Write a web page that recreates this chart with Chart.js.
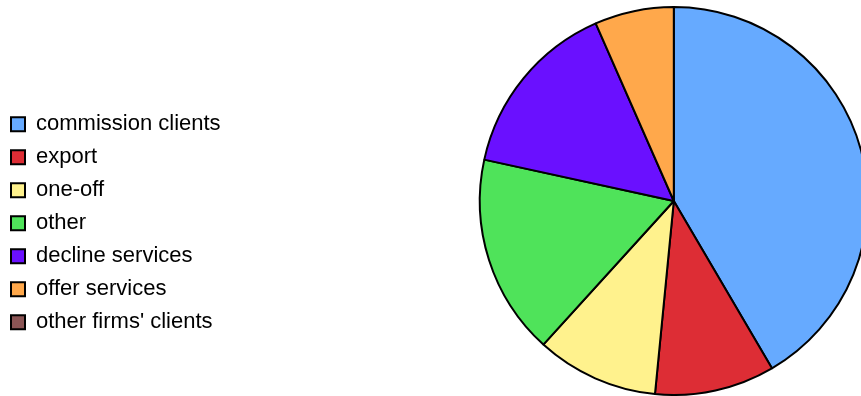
<!DOCTYPE html>
<html>
<head>
<meta charset="utf-8">
<script src="https://cdn.jsdelivr.net/npm/chart.js@4.4.0/dist/chart.umd.min.js"></script>
<style>
  html, body { margin: 0; padding: 0; overflow: hidden; background: #fff; }
  #wrap { width: 1117px; height: 396px; }
</style>
</head>
<body>
<div id="wrap"><canvas id="pieChart" width="1117" height="396"></canvas></div>
<script>
// shares (percent of the pie)
const categories = ['commission clients', 'export', 'one-off', 'other', 'decline services', 'offer services', "other firms' clients"];
const shares = [41.6, 10.0, 10.2, 16.7, 15.0, 6.6, 0];
const sliceColors = ['#66aaff', '#dd2d35', '#fff28d', '#4fe35a', '#6a10ff', '#ffa84b', '#8b5555'];

const chart = new Chart(document.getElementById('pieChart'), {
  type: 'pie',
  data: {
    labels: categories,
    datasets: [{
      data: shares,
      backgroundColor: sliceColors,
      borderColor: '#000000',
      borderWidth: 2
    }]
  },
  options: {
    responsive: false,
    animation: false,
    radius: 194,
    layout: { padding: { top: 6, left: 0, right: 0, bottom: 0 } },
    plugins: {
      tooltip: { enabled: false },
      legend: {
        position: 'left',
        align: 'center',
        title: { display: true, text: ' ', padding: { top: 30, bottom: 0 } },
        labels: {
          color: '#000000',
          font: { family: 'Liberation Sans, Arial, sans-serif', size: 22 },
          boxWidth: 14,
          boxHeight: 14,
          padding: 11
        }
      }
    }
  }
});
</script>
</body>
</html>
